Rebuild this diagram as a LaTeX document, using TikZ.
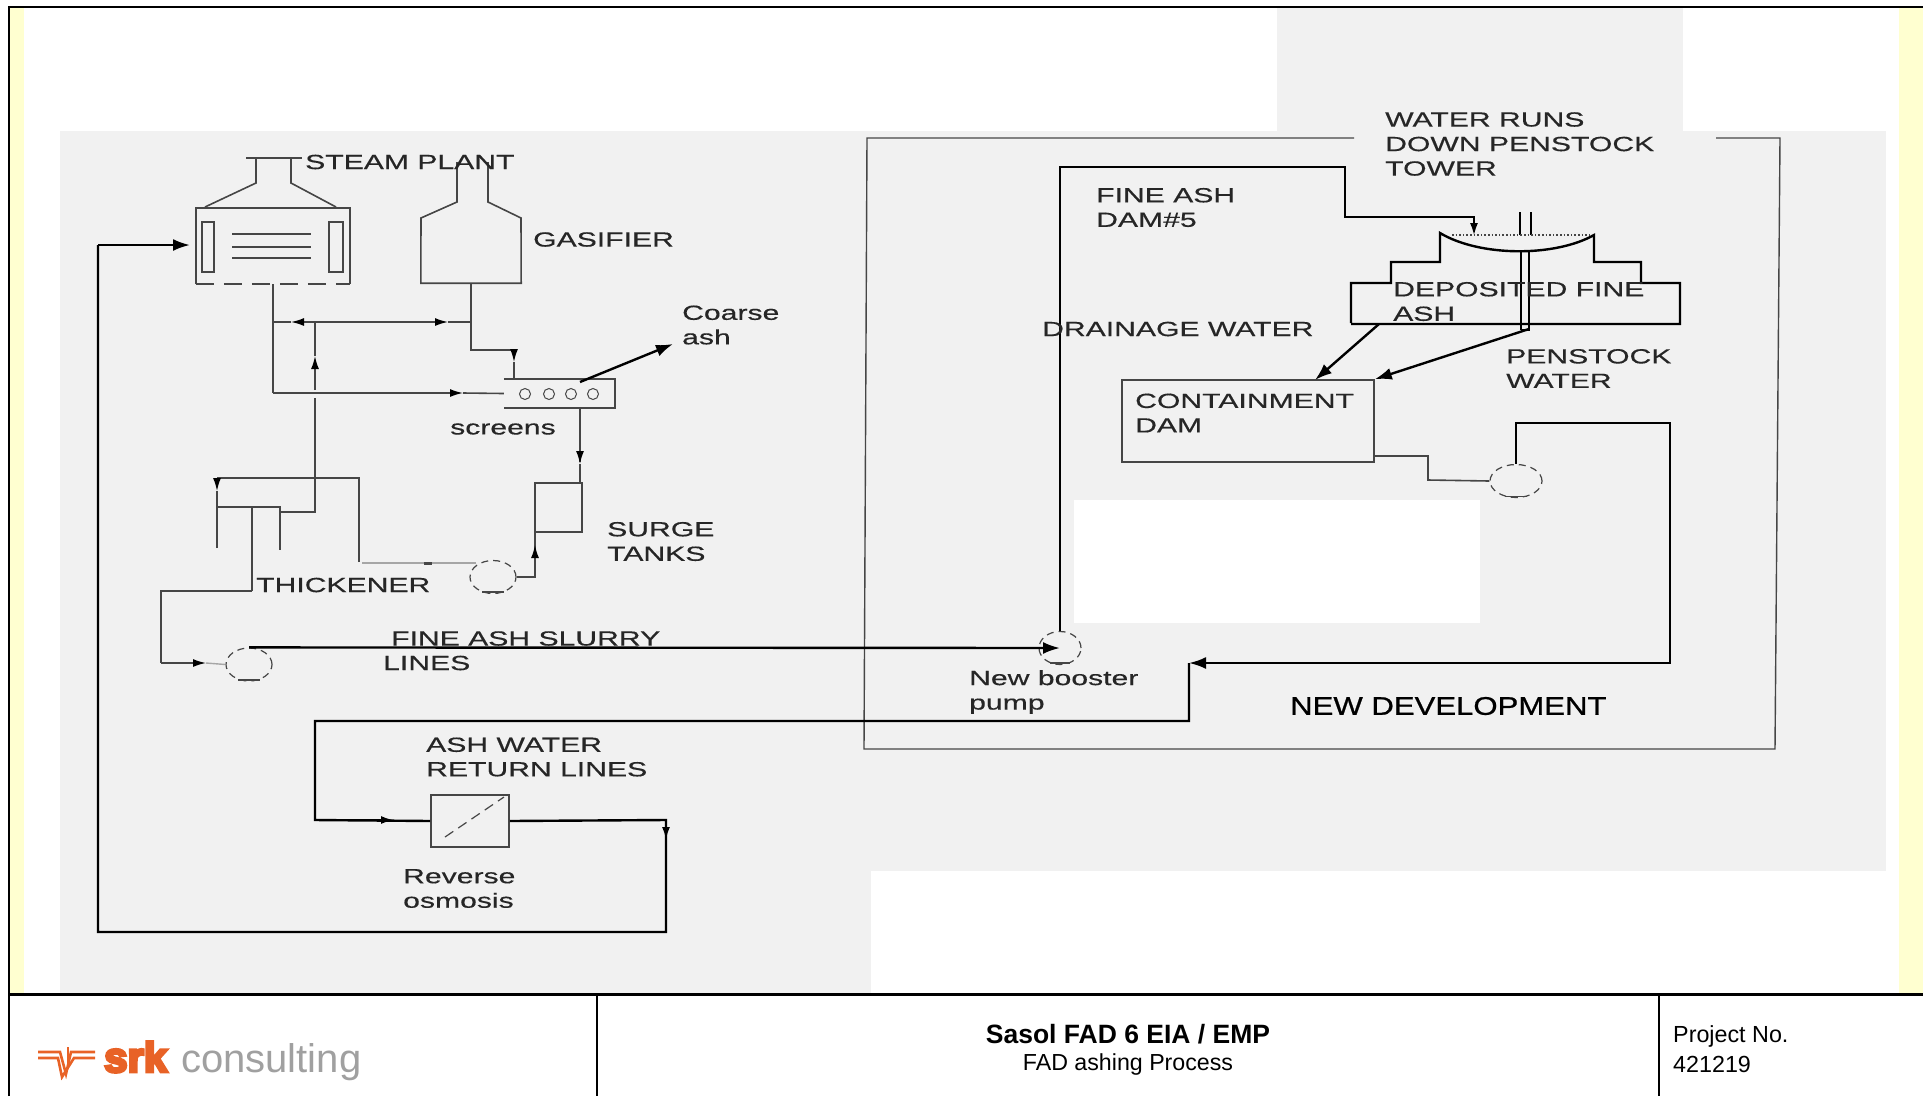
\documentclass[tikz,border=0pt]{standalone}
\usepackage{fontspec}
\usetikzlibrary{arrows.meta,shapes.geometric}
\setmainfont{Liberation Sans}
\newfontfamily\labelfont[FakeStretch=1.47,FakeBold=0.4]{Liberation Sans}
\newfontfamily\devfont[FakeStretch=1.22,FakeBold=0.8]{Liberation Sans}
\newfontfamily\srkfont[FakeBold=7]{Liberation Sans Bold}
\definecolor{Pagegray}{RGB}{241,241,241}
\definecolor{Edgeyellow}{RGB}{255,255,208}
\definecolor{Fadeline}{RGB}{70,70,70}
\definecolor{Srkorange}{RGB}{232,98,38}
\definecolor{Srkgray}{RGB}{160,160,160}
\tikzset{
  lbl/.style={anchor=west,inner sep=0pt,align=left,text=black!85,font=\labelfont\fontsize{20.5}{24.5}\selectfont},
  foot/.style={inner sep=0pt,align=center,font=\fontsize{23.2}{29}\selectfont},
  block/.style={rectangle,inner sep=0pt,draw=Fadeline,line width=1.6pt},
  ghost/.style={rectangle,inner sep=0pt,draw=none},
  pump/.style={ellipse,inner sep=0pt,minimum width=46pt,minimum height=33pt,draw=Fadeline,line width=1.2pt,dash pattern=on 7pt off 5pt},
  hole/.style={circle,inner sep=0pt,minimum size=11pt,draw=Fadeline,line width=1pt},
  thin/.style={draw=Fadeline,line width=1.6pt},
  faint/.style={draw=black!35,line width=1.4pt},
  heavy/.style={draw=black,line width=2.4pt},
  frame/.style={draw=Fadeline,line width=1.4pt},
  tip/.style={-{Latex[length=13pt,width=8pt,black]}},
  bigtip/.style={-{Latex[length=17pt,width=12pt,black]}}
}
\begin{document}
\begin{tikzpicture}[x=1pt,y=-1pt,line join=miter]
\path[use as bounding box] (0,0) rectangle (1923,1096);
\fill[Edgeyellow] (10,8) rectangle (24,994);
\fill[Edgeyellow] (1899,8) rectangle (1923,994);
\fill[Pagegray] (60,131) rectangle (1886,871);
\fill[Pagegray] (60,871) rectangle (871,994);
\fill[Pagegray] (1277,8) rectangle (1683,131);
\fill[white] (1074,500) rectangle (1480,623);
\draw[black,line width=2.4pt] (9,1096) -- (9,7) -- (1923,7);
\draw[black,line width=3pt] (9,994) -- (1923,994);
\draw[black,line width=2pt] (597,994) -- (597,1096);
\draw[black,line width=2pt] (1659,994) -- (1659,1096);
\draw[frame] (1354,138) -- (867,138) -- (864,749) -- (1775,749) -- (1780,138) -- (1716,138);
\node[ghost,minimum width=154pt,minimum height=76pt] (boiler) at (273,246) {};
\draw[thin] (boiler.south west) -- (boiler.north west) -- (boiler.north east) -- (boiler.south east);
\draw[thin,line width=2.2pt] (boiler.north west) -- (boiler.north east);
\draw[thin,dash pattern=on 18pt off 10pt] (boiler.south west) -- (boiler.south east);
\node[block,minimum width=12pt,minimum height=50pt] (tubeleft) at (208,247) {};
\node[block,minimum width=14pt,minimum height=50pt] (tuberight) at (336,247) {};
\draw[thin] (232,234) -- (311,234);
\draw[thin] (232,247) -- (311,247);
\draw[thin] (232,258) -- (311,258);
\draw[thin] (205,207) -- (256,183) -- (256,158);
\draw[thin] (336,207) -- (291,183) -- (291,158);
\draw[thin] (246,158) -- (302,158);
\node[ghost,minimum width=100pt,minimum height=65pt] (gasifier) at (471,250.5) {};
\draw[thin] (457,162) -- (457,202) -- (421,218) -- (gasifier.south west) -- (gasifier.south east) -- (521,218) -- (488,202) -- (488,162);
\node[ghost,minimum width=111pt,minimum height=29pt] (screens) at (559.5,393.5) {};
\draw[thin] (screens.north west) -- (screens.north east) -- (screens.south east) -- (screens.south west);
\node[hole] (holea) at (525,394) {};
\node[hole] (holeb) at (549,394) {};
\node[hole] (holec) at (571,394) {};
\node[hole] (holed) at (593,394) {};
\node[block,minimum width=47pt,minimum height=49pt] (surge) at (558.5,507.5) {};
\node[block,minimum width=252pt,minimum height=82pt] (dam) at (1248,421) {};
\node[block,minimum width=78pt,minimum height=52pt] (osmosis) at (470,821) {};
\draw[Fadeline,line width=1.2pt,dash pattern=on 10pt off 6pt] (445,837) -- (504,797);
\node[pump] (pumpa) at (493,577) {};
\node[pump] (pumpb) at (249,664.5) {};
\node[pump,minimum width=42pt] (pumpc) at (1060,648) {};
\node[pump,minimum width=52pt] (pumpd) at (1516,481) {};
\draw[thin] (pumpa.-125) -- (pumpa.-55);
\draw[thin] (pumpb.-125) -- (pumpb.-55);
\draw[thin] (pumpc.-125) -- (pumpc.-55);
\draw[thin] (pumpd.-125) -- (pumpd.-55);
\coordinate (jboiler) at (273,322);
\coordinate (jwater) at (315,322);
\coordinate (jgas) at (471,322);
\coordinate (jscreens) at (273,393);
\draw[thin] (boiler.south) -- (jboiler) -- (jscreens);
\draw[thin,tip] (jscreens) -- (463,393);
\draw[thin] (463,393) -- (screens.west);
\draw[thin,tip] (jwater) -- (291,322);
\draw[thin] (291,322) -- (jboiler);
\draw[thin,tip] (jwater) -- (448,322);
\draw[thin] (448,322) -- (jgas);
\draw[thin] (gasifier.south) -- (jgas) -- (471,350) -- (514,350);
\draw[thin,tip] (514,350) -- (514,362);
\draw[thin] (514,362) -- (514,379);
\draw[thin,tip] (315,390) -- (315,356);
\draw[thin] (315,356) -- (jwater);
\draw[thin] (315,398) -- (315,512) -- (280,512);
\draw[thin] (217,548) -- (217,507) -- (280,507) -- (280,550);
\draw[thin] (252,507) -- (252,591);
\draw[thin] (252,591) -- (161,591) -- (161,663);
\draw[thin,tip] (161,663) -- (206,663);
\draw[faint] (206,663) -- (pumpb.west);
\draw[thin] (359,562) -- (359,478) -- (217,478);
\draw[thin,tip] (217,478) -- (217,491);
\draw[thin] (217,491) -- (217,507);
\draw[faint] (476,563) -- (430,563);
\draw[Fadeline,line width=3pt] (424,563) -- (432,563);
\draw[faint] (424,563) -- (362,563);
\draw[thin] (580,408) -- (580,462);
\draw[thin,tip] (580,440) -- (580,464);
\draw[thin] (580,464) -- (580,483);
\draw[thin] (535,532) -- (535,577) -- (pumpa.east);
\draw[thin,tip] (535,570) -- (535,545);
\draw[heavy,bigtip] (580,382) -- (673,344);
\draw[heavy,bigtip] (pumpb.north) -- (pumpc.center);
\draw[heavy,tip] (pumpc.north) -- (1060,167) -- (1345,167) -- (1345,217) -- (1474,217) -- (1474,236);
\draw[thin] (dam.east |- 0,456) -- (1428,456) -- (1428,480) -- (pumpd.west);
\draw[heavy,bigtip] (pumpd.north) -- (1516,423) -- (1670,423) -- (1670,663) -- (1189,663);
\draw[heavy] (1189,663) -- (1189,721) -- (315,721) -- (315,820) -- (osmosis.west);
\draw[heavy,tip] (315,820) -- (394,820);
\draw[heavy] (osmosis.east) -- (666,820) -- (666,932) -- (98,932) -- (98,245);
\draw[heavy,tip] (666,820) -- (666,840);
\draw[heavy,bigtip] (98,245) -- (190,245);
\draw[heavy,line width=2pt] (1520,212) -- (1520,235);
\draw[heavy,line width=2pt] (1531,212) -- (1531,235);
\draw[Fadeline,line width=1.6pt,dotted] (1452,235) -- (1590,235);
\draw[heavy] (1351,323) -- (1351,283) -- (1391,283) -- (1391,262) -- (1440,262) -- (1440,233) .. controls (1480,257) and (1555,257) .. (1594,235) -- (1594,262) -- (1641,262) -- (1641,283) -- (1680,283) -- (1680,324) -- (1351,324);
\draw[heavy] (1521,251) -- (1521,330);
\draw[heavy] (1529,251) -- (1529,330) -- (1521,330);
\draw[heavy,bigtip] (1529,329) -- (dam.north east);
\draw[heavy,bigtip] (1379,324) -- (1315,380);
\node[lbl] (steamlbl) at (305,162) {STEAM PLANT};
\node[lbl] (gaslbl) at (533,239.5) {GASIFIER};
\node[lbl] (coarselbl) at (682,325) {Coarse\\ash};
\node[lbl] (screenlbl) at (450,429) {screens};
\node[lbl] (surgelbl) at (607,541.5) {SURGE\\TANKS};
\node[lbl] (thicklbl) at (256,585) {THICKENER};
\node[lbl] (slurrylbl) at (391,638.5) {FINE ASH SLURRY};
\node[lbl] (lineslbl) at (383,663) {LINES};
\node[lbl] (boosterlbl) at (969,692) {New booster\\pump};
\node[lbl] (returnlbl) at (426,757) {ASH WATER\\RETURN LINES};
\node[lbl] (osmoslbl) at (403,888.5) {Reverse\\osmosis};
\node[lbl] (runslbl) at (1385,144) {WATER RUNS\\DOWN PENSTOCK\\TOWER};
\node[lbl] (damfivelbl) at (1096,207.5) {FINE ASH\\DAM\#5};
\node[lbl] (drainlbl) at (1042,329) {DRAINAGE WATER};
\node[lbl] (depolbl) at (1393,301.5) {DEPOSITED FINE\\ASH};
\node[lbl] (stocklbl) at (1506,368.5) {PENSTOCK\\WATER};
\node[lbl] (damlbl) at (1135,413) {CONTAINMENT\\DAM};
\node[anchor=west,inner sep=0pt,font=\devfont\fontsize{25.5}{25.5}\selectfont] (devlbl) at (1290,706) {NEW DEVELOPMENT};
\draw[Srkorange,line width=2.6pt] (38,1052) -- (60,1052) -- (66,1074) -- (71,1052) -- (95,1052);
\draw[Srkorange,line width=2.6pt] (38,1058) -- (58,1058) -- (62,1077) -- (74,1058) -- (95,1058);
\draw[Srkorange,line width=2.6pt] (68,1047) -- (68,1064);
\node[anchor=base west,inner sep=0pt,text=Srkorange,font=\srkfont\fontsize{42}{42}\selectfont] (srklbl) at (104,1072) {srk};
\node[anchor=base west,inner sep=0pt,text=Srkgray,font=\fontsize{40}{40}\selectfont] (conslbl) at (181,1072) {consulting};
\node[foot] (titlelbl) at (1128,1034) {\fontsize{26.5}{29}\selectfont\bfseries Sasol FAD 6 EIA / EMP};
\node[foot] (sublbl) at (1128,1064) {FAD ashing Process};
\node[anchor=west,inner sep=0pt,align=left,font=\fontsize{23.3}{29.5}\selectfont] (projlbl) at (1673,1049) {Project No.\\421219};
\end{tikzpicture}
\end{document}
